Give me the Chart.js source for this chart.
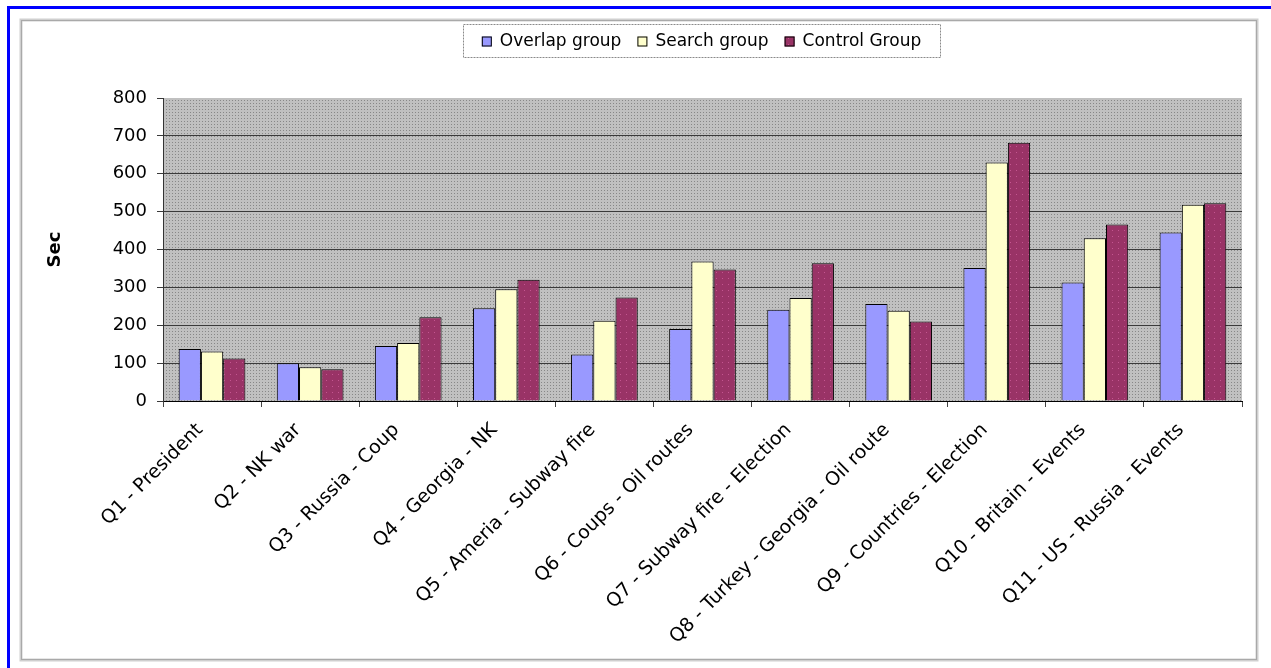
<!DOCTYPE html>
<html>
<head>
<meta charset="utf-8">
<script src="https://cdn.jsdelivr.net/npm/chart.js@4/dist/chart.umd.min.js"></script>
<style>
  html, body { margin: 0; padding: 0; background: #ffffff; }
  #wrap { width: 1271px; height: 668px; position: relative; }
</style>
</head>
<body>
<div id="wrap"><canvas id="c" width="1271" height="668"></canvas></div>
<script>
// ---- data ----
const categories = [
  "Q1 - President",
  "Q2 - NK war",
  "Q3 - Russia - Coup",
  "Q4 - Georgia - NK",
  "Q5 - Ameria - Subway fire",
  "Q6 - Coups - Oil routes",
  "Q7 - Subway fire - Election",
  "Q8 - Turkey - Georgia - Oil route",
  "Q9 - Countries - Election",
  "Q10 - Britain - Events",
  "Q11 - US - Russia - Events"
];
const seriesNames = ["Overlap group", "Search group", "Control Group"];
const overlapGroup = [137, 100, 145, 245, 123, 190, 241, 256, 351, 313, 445];
const searchGroup  = [131, 89, 153, 295, 212, 368, 272, 238, 630, 430, 518];
const controlGroup = [112, 84, 221, 320, 273, 347, 364, 210, 682, 466, 522];
const yTicks = [0, 100, 200, 300, 400, 500, 600, 700, 800];
const yTitle = "Sec";

// ---- styling helpers ----
const canvas = document.getElementById('c');
const ctx = canvas.getContext('2d');
function makePattern(bg, dot, size, dx, dy) {
  const pc = document.createElement('canvas');
  pc.width = size; pc.height = size;
  const p = pc.getContext('2d');
  p.fillStyle = bg; p.fillRect(0, 0, size, size);
  p.fillStyle = dot; p.fillRect(dx, dy, 1, 1);
  return ctx.createPattern(pc, 'repeat');
}
const plotPattern = makePattern('#c0c0c0', '#878787', 3, 1, 1);
const redPattern = makePattern('#993366', '#c45590', 6, 2, 2);
const colors = ['#9999ff', '#ffffcc', redPattern];
const FONT = 'DejaVu Sans';

const framePlugin = {
  id: 'frame',
  beforeDraw(chart) {
    const c = chart.ctx;
    c.save();
    c.fillStyle = '#ffffff';
    c.fillRect(0, 0, chart.width, chart.height);
    // blue page border
    c.fillStyle = '#0000ff';
    c.fillRect(7, 6, chart.width - 7, 3);
    c.fillRect(7, 6, 3, chart.height - 6);
    // gray chart frame
    c.strokeStyle = '#cfcfcf';
    c.lineWidth = 3;
    c.strokeRect(21, 20, 1236, 640);
    c.strokeStyle = '#a9a9a9';
    c.lineWidth = 1;
    c.strokeRect(21.5, 20.5, 1235, 639);
    // plot background
    const a = chart.chartArea;
    c.fillStyle = plotPattern;
    c.fillRect(a.left, a.top, a.right - a.left, a.bottom - a.top);
    c.restore();
  },
  afterDraw(chart) {
    // legend box
    const c = chart.ctx;
    c.save();
    c.font = '17px "' + FONT + '"';
    c.textBaseline = 'middle';
    const box = { x: 463, y: 24, w: 477, h: 33 };
    c.fillStyle = '#ffffff';
    c.fillRect(box.x, box.y, box.w, box.h);
    c.strokeStyle = '#8a8a8a';
    c.lineWidth = 1;
    c.setLineDash([2, 1]);
    c.strokeRect(box.x + 0.5, box.y + 0.5, box.w, box.h);
    c.setLineDash([]);
    const ds = chart.data.datasets;
    const widths = ds.map(d => c.measureText(d.label).width);
    const sq = 10, gapSq = 8, gapItem = 16;
    let total = 0;
    widths.forEach((w, i) => { total += sq + gapSq + w + (i < widths.length - 1 ? gapItem : 0); });
    let x = box.x + (box.w - total) / 2;
    const cy = box.y + box.h / 2 + 1;
    ds.forEach((d, i) => {
      c.fillStyle = d.backgroundColor;
      c.fillRect(x, cy - sq / 2, sq, sq);
      c.strokeStyle = '#000000';
      c.strokeRect(x + 0.5, cy - sq / 2 + 0.5, sq - 1, sq - 1);
      c.fillStyle = '#000000';
      c.fillText(d.label, x + sq + gapSq, cy);
      x += sq + gapSq + widths[i] + gapItem;
    });
    c.restore();
  }
};

new Chart(canvas, {
  type: 'bar',
  data: {
    labels: categories,
    datasets: [
      { label: seriesNames[0], data: overlapGroup, backgroundColor: colors[0] },
      { label: seriesNames[1], data: searchGroup, backgroundColor: colors[1] },
      { label: seriesNames[2], data: controlGroup, backgroundColor: colors[2] }
    ]
  },
  options: {
    responsive: false,
    animation: false,
    devicePixelRatio: 1,
    layout: { padding: { left: 40, right: 29, top: 98, bottom: 0 } },
    datasets: {
      bar: {
        borderColor: '#000000',
        borderWidth: 1,
        categoryPercentage: 0.68,
        barPercentage: 1.0
      }
    },
    plugins: {
      legend: { display: false },
      tooltip: { enabled: false }
    },
    scales: {
      x: {
        offset: true,
        grid: {
          display: true,
          drawOnChartArea: false,
          offset: true,
          drawTicks: true,
          tickLength: 6,
          color: '#444444'
        },
        border: { display: true, color: '#000000', width: 1 },
        ticks: {
          autoSkip: false,
          maxRotation: 45,
          minRotation: 45,
          padding: 12,
          labelOffset: -12,
          color: '#000000',
          font: { family: FONT, size: 19 }
        },
        afterFit(scale) { scale.height = 267; }
      },
      y: {
        min: 0,
        max: 800,
        afterBuildTicks(scale) { scale.ticks = yTicks.map(v => ({ value: v })); },
        grid: {
          color: (c) => (c.tick && c.tick.value === 800) ? 'rgba(0,0,0,0)' : '#3a3a3a',
          tickColor: '#3a3a3a',
          lineWidth: 1,
          drawTicks: true,
          tickLength: 6
        },
        border: { display: true, color: '#333333', width: 1 },
        ticks: {
          padding: 10,
          color: '#000000',
          font: { family: FONT, size: 18 }
        },
        title: {
          display: true,
          text: yTitle,
          color: '#000000',
          font: { family: FONT, size: 18, weight: 'bold' },
          padding: { top: 5, bottom: 4 }
        },
        afterFit(scale) { scale.width = 123; }
      }
    }
  },
  plugins: [framePlugin]
});
</script>
</body>
</html>
